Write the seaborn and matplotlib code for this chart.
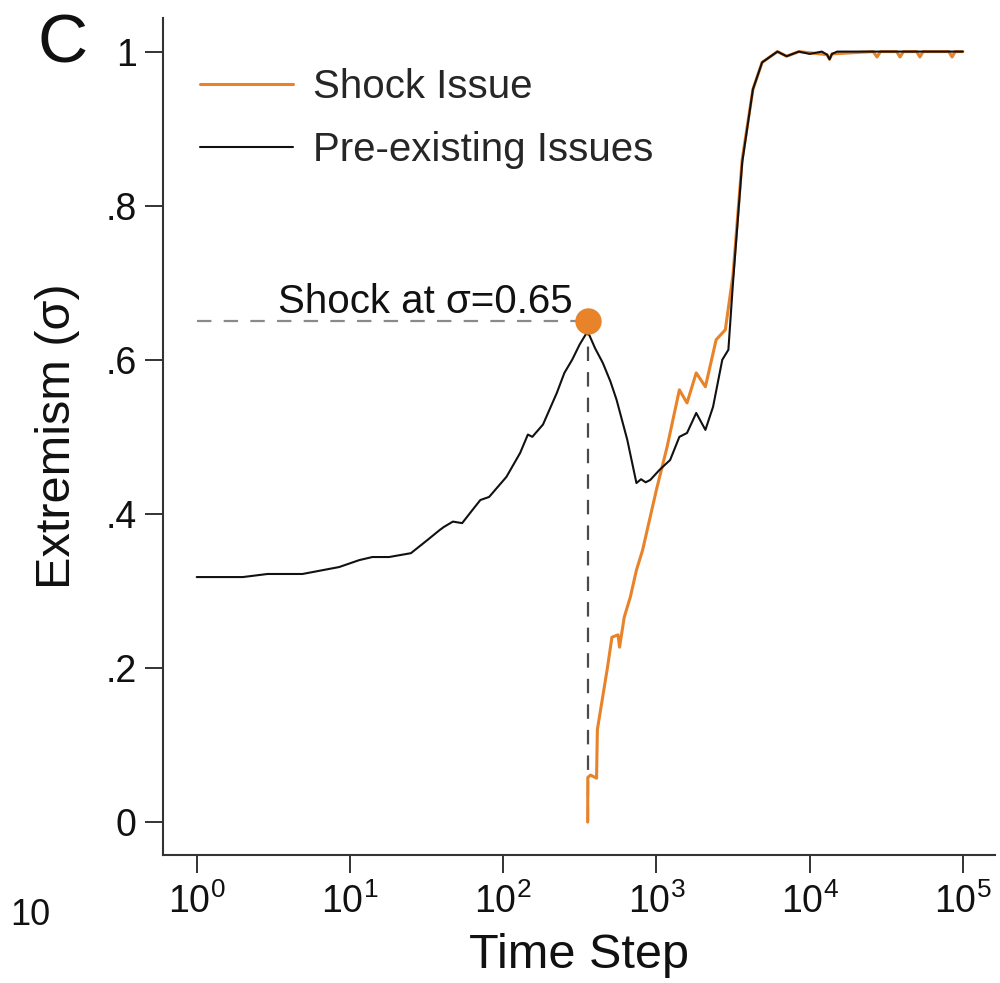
import numpy as np
import pandas as pd
import matplotlib
matplotlib.use("Agg")
import matplotlib.pyplot as plt
import seaborn as sns
from matplotlib.lines import Line2D
from matplotlib.ticker import FixedLocator, NullLocator

# ---------------- data ----------------
pre_time = [1, 2, 2.9, 4.9, 8.5, 11.5, 14, 18, 25, 32, 38.5, 41, 47, 54, 63, 71, 81,
            105, 129, 145, 155, 182, 224, 251, 282, 316, 356, 398, 447, 501, 550, 646,
            741, 794, 851, 912, 1047, 1230, 1413, 1585, 1820, 2089, 2344, 2692, 2951,
            3162, 3631, 4266, 4898, 6166, 7079, 8511, 10000, 12023, 13000, 13490, 14000,
            15136, 31623, 100000]
pre_value = [0.318, 0.318, 0.322, 0.322, 0.331, 0.340, 0.344, 0.344, 0.349, 0.366, 0.379,
             0.383, 0.390, 0.388, 0.405, 0.418, 0.422, 0.448, 0.479, 0.503, 0.500, 0.516,
             0.557, 0.583, 0.600, 0.620, 0.637, 0.615, 0.596, 0.572, 0.548, 0.496, 0.440,
             0.445, 0.441, 0.444, 0.457, 0.470, 0.500, 0.505, 0.531, 0.509, 0.539, 0.600,
             0.613, 0.700, 0.856, 0.951, 0.986, 1.000, 0.994, 1.000, 0.997, 1.000, 0.996,
             0.990, 0.997, 1.000, 1.000, 1.000]

shock_time_steps = [356, 357, 372, 407, 412, 479, 513, 562, 575, 617, 676, 741, 813, 1000,
                    1175, 1413, 1585, 1820, 2089, 2455, 2818, 3162, 3631, 4266, 4898, 6166,
                    7079, 8511, 13000, 13490, 14000, 26000, 27542, 29000, 37000, 38905,
                    41000, 50000, 52481, 55000, 81000, 85114, 89000, 100000]
shock_value = [0.000, 0.058, 0.061, 0.057, 0.120, 0.200, 0.240, 0.243, 0.227, 0.266, 0.292,
               0.327, 0.353, 0.431, 0.487, 0.561, 0.544, 0.583, 0.565, 0.626, 0.639, 0.710,
               0.860, 0.951, 0.986, 1.000, 0.994, 1.000, 0.996, 0.990, 0.997, 1.000, 0.993,
               1.000, 1.000, 0.993, 1.000, 1.000, 0.993, 1.000, 1.000, 0.993, 1.000, 1.000]

shock_time = 356
shock_level = 0.65

x_ticks = [1, 10, 100, 1000, 10000, 100000]
x_tick_labels = [r"$10^{0}$", r"$10^{1}$", r"$10^{2}$", r"$10^{3}$", r"$10^{4}$", r"$10^{5}$"]
y_ticks = [0, 0.2, 0.4, 0.6, 0.8, 1.0]
y_tick_labels = ["0", ".2", ".4", ".6", ".8", "1"]

ORANGE = "#E8832A"
BLACK = "#111111"

# ---------------- style ----------------
sns.set_style("ticks")
plt.rcParams["font.family"] = ["Liberation Sans", "DejaVu Sans"]
plt.rcParams["mathtext.fontset"] = "custom"
plt.rcParams["mathtext.rm"] = "Liberation Sans"
plt.rcParams["mathtext.it"] = "Liberation Sans"
plt.rcParams["mathtext.bf"] = "Liberation Sans"

fig = plt.figure(figsize=(10, 9.83), dpi=100)
ax = fig.add_axes([0.163, 0.130, 0.832, 0.852])

pre_df = pd.DataFrame({"time": pre_time, "value": pre_value})
shock_df = pd.DataFrame({"time": shock_time_steps, "value": shock_value})

# reference lines
ax.plot([pre_time[0], shock_time], [shock_level, shock_level], ls=(0, (6.5, 5.5)),
        color="#8a8a8a", lw=1.6, zorder=1)
ax.plot([shock_time, shock_time], [shock_level, 0], ls=(0, (6.5, 5)),
        color="#4a4a4a", lw=1.6, zorder=1)

sns.lineplot(data=shock_df, x="time", y="value", ax=ax, color=ORANGE, lw=2.2,
             estimator=None, sort=False, zorder=2)
sns.lineplot(data=pre_df, x="time", y="value", ax=ax, color=BLACK, lw=1.5,
             estimator=None, sort=False, zorder=3)

ax.plot([shock_time], [shock_level], "o", color=ORANGE, ms=19, mew=0, zorder=4)

ax.annotate("Shock at σ=0.65", xy=(shock_time, shock_level), xytext=(-11, 6),
            textcoords="offset points", ha="right", va="baseline", fontsize=29,
            color="#111111")

ax.set_xscale("log")
ax.set_xlim(10 ** -0.22, 10 ** 5.21)
ax.set_ylim(-0.043, 1.044)
ax.xaxis.set_major_locator(FixedLocator(x_ticks))
ax.xaxis.set_minor_locator(NullLocator())
ax.set_xticklabels(x_tick_labels)
ax.set_yticks(y_ticks)
ax.set_yticklabels(y_tick_labels)

ax.tick_params(axis="both", direction="out", length=13, width=1.4, colors="#333333",
               labelsize=27, labelcolor="#111111", pad=6)
ax.tick_params(axis="x", pad=7)
for s in ["top", "right"]:
    ax.spines[s].set_visible(False)
for s in ["left", "bottom"]:
    ax.spines[s].set_linewidth(1.5)
    ax.spines[s].set_color("#333333")

ax.set_xlabel("Time Step", fontsize=35, color="#111111", labelpad=9)
ax.set_ylabel("Extremism (σ)", fontsize=35, color="#111111", labelpad=18)

handles = [Line2D([], [], color=ORANGE, lw=2.2), Line2D([], [], color=BLACK, lw=1.5)]
ax.legend(handles, ["Shock Issue", "Pre-existing Issues"], loc="upper left",
          bbox_to_anchor=(0.045, 0.94), frameon=False, fontsize=29, handlelength=2.3,
          handletextpad=0.5, labelspacing=0.62, borderaxespad=0, borderpad=0)

fig.text(0.063, 0.955, "C", fontsize=50, ha="center", va="center", color="#111111")
fig.text(0.030, 0.069, "10", fontsize=26, ha="center", va="center", color="#111111")

fig.savefig("out.png", dpi=100)
